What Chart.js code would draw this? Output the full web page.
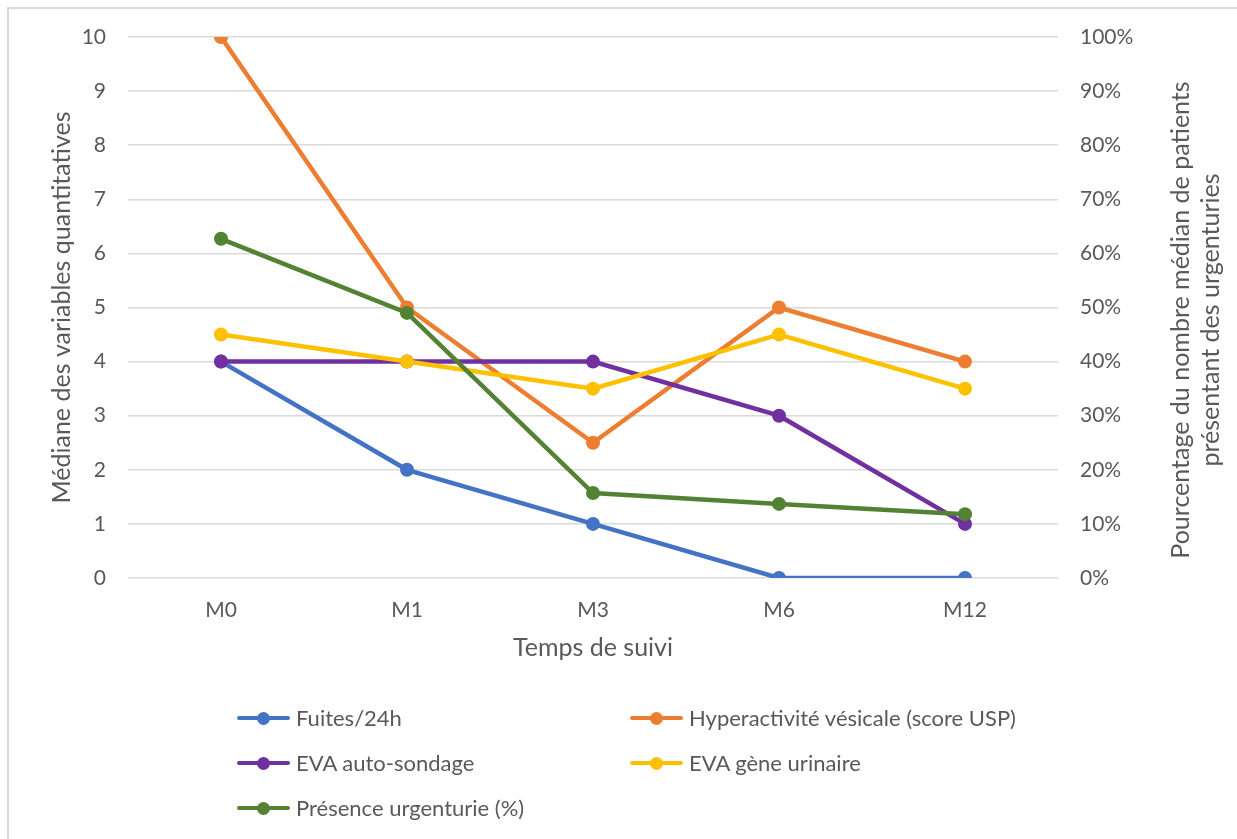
<!DOCTYPE html>
<html>
<head>
<meta charset="utf-8">
<script src="https://cdn.jsdelivr.net/npm/chart.js@4.4.0/dist/chart.umd.min.js"></script>
<style>
  html, body { margin: 0; padding: 0; background: #fff; overflow: hidden; }
  #wrap { position: relative; width: 1237px; height: 839px; font-family: Lato, sans-serif; color: #595959; }
  #frame { position: absolute; left: 7px; top: 7px; width: 1300px; height: 900px;
           border-left: 2px solid #d9d9d9; border-top: 2px solid #d9d9d9; }
  #chart { position: absolute; left: 0; top: 0; }
  #rightTitle { position: absolute; width: 600px; height: 60px; left: 894px; top: 290px;
                line-height: 30px; font-size: 25px; text-align: center;
                transform: rotate(-90deg); transform-origin: 50% 50%; }
  .legItem { position: absolute; height: 26px; line-height: 26px; font-size: 22px; white-space: nowrap; }
  .legItem .mark { position: absolute; left: 0; top: 11px; width: 53px; height: 4px; border-radius: 2px; }
  .legItem .dot { position: absolute; left: 20px; top: 6.5px; width: 13px; height: 13px; border-radius: 50%; }
  .legItem .txt { position: absolute; left: 59px; top: 0; }
</style>
</head>
<body>
<div id="wrap">
  <div id="frame"></div>
  <canvas id="chart" width="1237" height="839"></canvas>
  <div id="rightTitle">Pourcentage du nombre médian de patients<br>présentant des urgenturies</div>
  <div id="legend"></div>
</div>
<script>
// Data
const labels = ['M0', 'M1', 'M3', 'M6', 'M12'];
const fuites = [4, 2, 1, 0, 0];
const hyperactivite = [10, 5, 2.5, 5, 4];
const evaSondage = [4, 4, 4, 3, 1];
const evaGene = [4.5, 4, 3.5, 4.5, 3.5];
const urgenturie = [62.7, 49.0, 15.7, 13.7, 11.8]; // %, right axis

const seriesNames = ['Fuites/24h', 'Hyperactivité vésicale (score USP)', 'EVA auto-sondage', 'EVA gène urinaire', 'Présence urgenturie (%)'];
const seriesColors = ['#4472C4', '#ED7D31', '#7030A0', '#FFC000', '#548235'];
const seriesValues = [fuites, hyperactivite, evaSondage, evaGene, urgenturie];
const seriesAxis = ['y', 'y', 'y', 'y', 'y1'];

const textColor = '#595959';
const gridColor = '#d9d9d9';
const tickFont = { family: 'Lato, sans-serif', size: 21 };
const titleFont = { family: 'Lato, sans-serif', size: 25 };

const datasets = seriesNames.map(function(name, i) {
    return {
        label: name,
        data: seriesValues[i],
        yAxisID: seriesAxis[i],
        borderColor: seriesColors[i],
        backgroundColor: seriesColors[i],
        borderWidth: 4.5,
        pointRadius: 7,
        pointBorderWidth: 0,
        pointHoverRadius: 7,
        tension: 0,
        // later series drawn on top, like the original
        order: seriesNames.length - i
    };
});

const ctx = document.getElementById('chart').getContext('2d');
const myChart = new Chart(ctx, {
    type: 'line',
    data: { labels: labels, datasets: datasets },
    options: {
        responsive: false,
        animation: false,
        layout: { padding: { top: 37, left: 0, right: 0, bottom: 176 } },
        plugins: {
            legend: { display: false },
            tooltip: { enabled: false }
        },
        scales: {
            x: {
                offset: true,
                grid: { display: false },
                border: { display: false },
                ticks: { color: textColor, font: tickFont, padding: 12 },
                title: {
                    display: true, text: 'Temps de suivi', color: textColor, font: titleFont,
                    padding: { top: 0, bottom: 0 }
                },
                afterFit: function(scale) { scale.height = 85; }
            },
            y: {
                position: 'left',
                min: 0, max: 10,
                ticks: { stepSize: 1, color: textColor, font: tickFont, padding: 22 },
                grid: { color: gridColor, lineWidth: 1.5, drawTicks: false },
                border: { display: false },
                title: {
                    display: true, text: 'Médiane des variables quantitatives', color: textColor, font: titleFont,
                    padding: { top: 47, bottom: 0 }
                },
                afterFit: function(scale) { scale.width = 128; }
            },
            y1: {
                position: 'right',
                min: 0, max: 100,
                ticks: {
                    stepSize: 10, color: textColor, font: tickFont, padding: 22,
                    callback: function(v) { return v + '%'; }
                },
                grid: { drawOnChartArea: false, drawTicks: false },
                border: { display: false },
                afterFit: function(scale) { scale.width = 179; }
            }
        }
    }
});

// Legend in two columns, like the original
const legend = document.getElementById('legend');
const colX = [237, 630];
const rowY = [705, 750, 795];
myChart.data.datasets.forEach(function(ds, i) {
    const item = document.createElement('div');
    item.className = 'legItem';
    item.style.left = colX[i % 2] + 'px';
    item.style.top = rowY[Math.floor(i / 2)] + 'px';
    item.innerHTML = '<span class="mark"></span><span class="dot"></span><span class="txt"></span>';
    item.querySelector('.mark').style.background = ds.borderColor;
    item.querySelector('.dot').style.background = ds.borderColor;
    item.querySelector('.txt').textContent = ds.label;
    legend.appendChild(item);
});
</script>
</body>
</html>
